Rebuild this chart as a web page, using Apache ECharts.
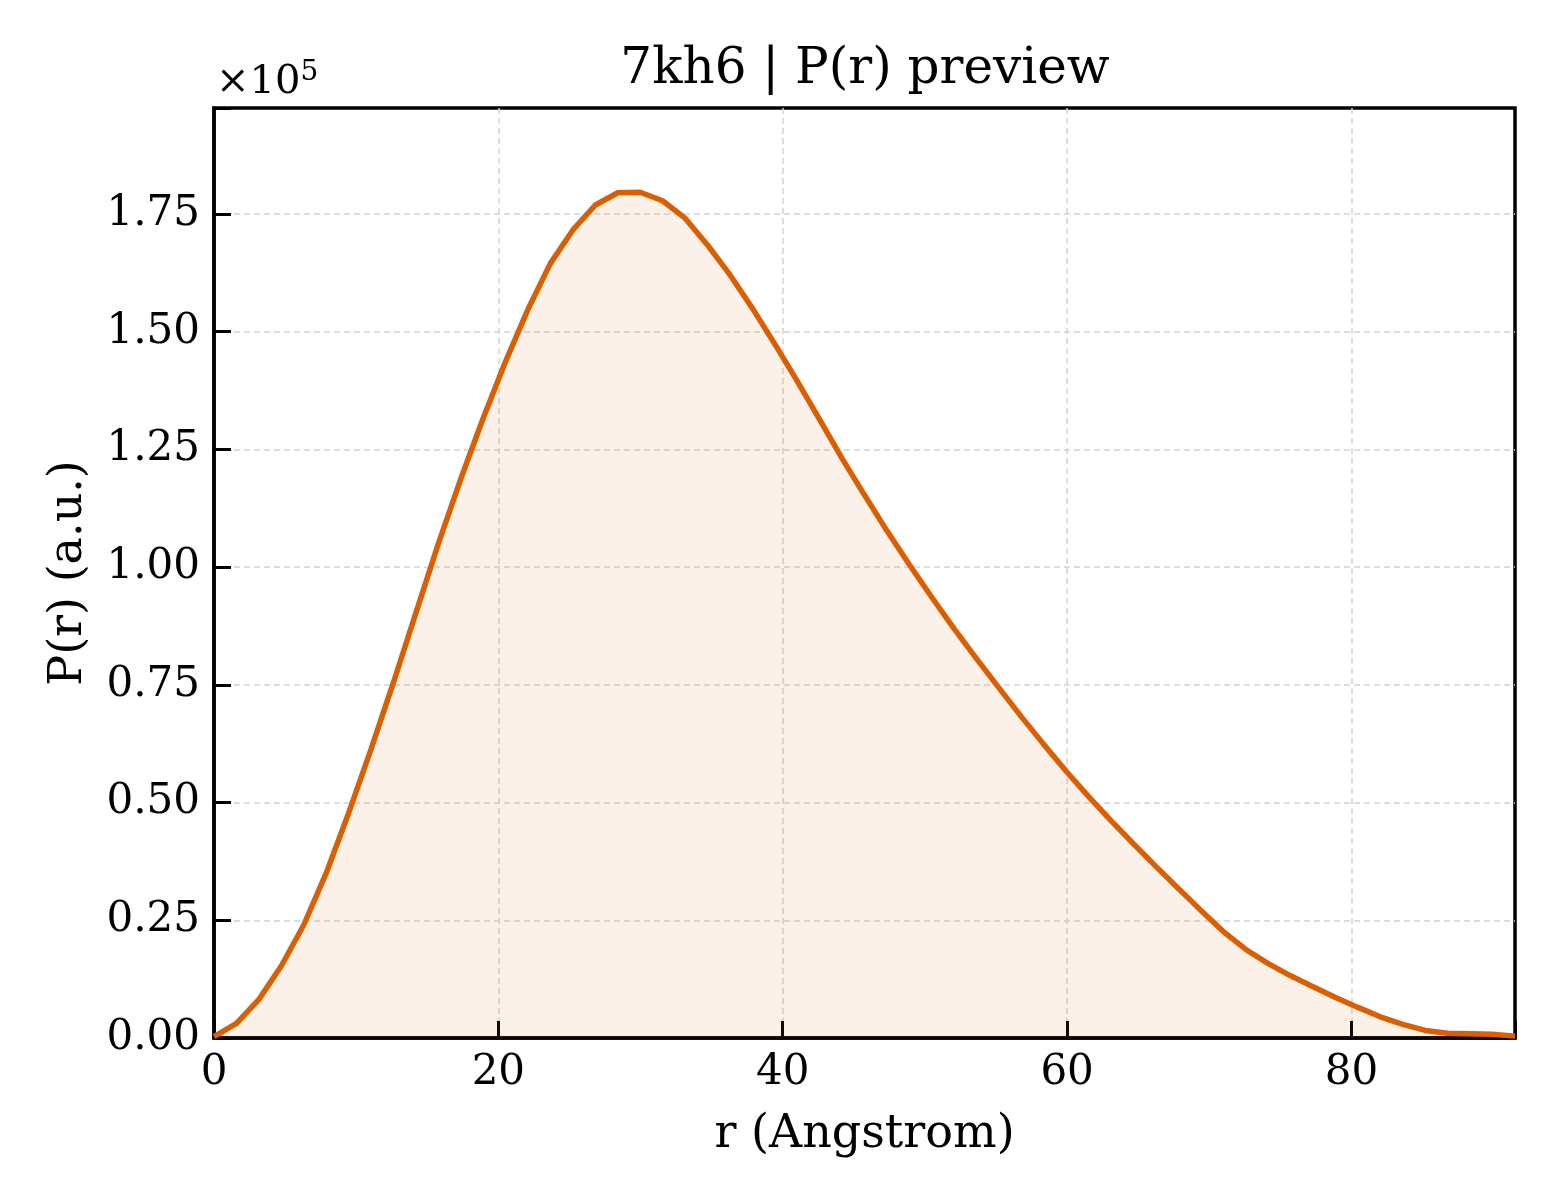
<!DOCTYPE html>
<html>
<head>
<meta charset="utf-8">
<script src="https://cdn.jsdelivr.net/npm/echarts@6/dist/echarts.min.js"></script>
<style>
  html, body { margin: 0; padding: 0; background: #fff; }
  #chart { width: 1560px; height: 1200px; }
</style>
</head>
<body>
<div id="chart"></div>
<script>
// r values (Angstrom)
const rValues = [
  0, 1.58, 3.16, 4.73, 6.31, 7.89, 9.47, 11.04, 12.62, 14.20,
  15.78, 17.35, 18.93, 20.51, 22.09, 23.66, 25.24, 26.82, 28.40, 29.97,
  31.55, 33.13, 34.71, 36.28, 37.86, 39.44, 41.02, 42.60, 44.17, 45.75,
  47.33, 48.91, 50.48, 52.06, 53.64, 55.22, 56.79, 58.37, 59.95, 61.53,
  63.10, 64.68, 66.26, 67.84, 69.41, 70.99, 72.57, 74.15, 75.72, 77.30,
  78.88, 80.46, 82.03, 83.61, 85.19, 86.77, 88.34, 89.92, 91.50
];

// P(r) values (a.u.)
const prValues = [
  300, 3100, 8200, 15300, 24000, 35000, 47800, 61300, 75500, 90300,
  105000, 118700, 131600, 143700, 154800, 164500, 171600, 176900, 179500, 179600,
  177800, 174100, 168400, 162100, 155000, 147400, 139500, 131300, 123100, 115300,
  107700, 100500, 93600, 86900, 80500, 74300, 68200, 62300, 56600, 51200,
  46100, 41200, 36400, 31700, 27100, 22600, 18800, 15800, 13200, 10900,
  8600, 6500, 4500, 2900, 1600, 1000, 900, 800, 400
];

const xTicks = [0, 20, 40, 60, 80];
const yTicks = [0, 25000, 50000, 75000, 100000, 125000, 150000, 175000];

const serif = 'DejaVu Serif';
const gridStyle = { color: '#d4d4d4', width: 1.5, type: [6, 4] };
const chart = echarts.init(document.getElementById('chart'));

chart.setOption({
  backgroundColor: '#fff',
  animation: false,
  grid: {
    left: 214, right: 45, top: 108, bottom: 162,
    show: true, borderColor: '#000', borderWidth: 3.5, backgroundColor: 'transparent'
  },
  graphic: [
    {
      type: 'text', x: 865, y: 45,
      style: {
        text: '7kh6 | P(r) preview', fill: '#000',
        font: '50px "DejaVu Serif"', textAlign: 'center', textVerticalAlign: 'top'
      }
    },
    {
      type: 'text', x: 216, y: 59,
      style: {
        text: '×10{s|5}', fill: '#000',
        font: '40px "DejaVu Serif"',
        rich: { s: { fontSize: 28, fontFamily: serif, verticalAlign: 'top', padding: [0, 0, 20, 0] } }
      }
    }
  ],
  xAxis: {
    type: 'value', min: 0, max: 91.5, interval: 20,
    name: 'r (Angstrom)', nameLocation: 'middle', nameGap: 74,
    nameTextStyle: { fontFamily: serif, fontSize: 46, color: '#000' },
    axisLine: { lineStyle: { color: '#000', width: 3.5 } },
    axisTick: { inside: true, length: 17, lineStyle: { color: '#000', width: 3 } },
    axisLabel: {
      fontFamily: serif, fontSize: 42, color: '#000', margin: 14,
      formatter: v => xTicks.includes(v) ? String(v) : ''
    },
    splitLine: { show: true, showMinLine: false, showMaxLine: false, lineStyle: gridStyle }
  },
  yAxis: {
    type: 'value', min: 0, max: 197500, interval: 25000,
    name: 'P(r) (a.u.)', nameLocation: 'middle', nameGap: 122,
    nameTextStyle: { fontFamily: serif, fontSize: 46, color: '#000' },
    axisLine: { lineStyle: { color: '#000', width: 3.5 } },
    axisTick: { inside: true, length: 17, lineStyle: { color: '#000', width: 3 } },
    axisLabel: {
      fontFamily: serif, fontSize: 42, color: '#000', margin: 14,
      formatter: v => yTicks.includes(v) ? (v / 1e5).toFixed(2) : ''
    },
    splitLine: { show: true, showMinLine: false, showMaxLine: false, lineStyle: gridStyle }
  },
  series: [{
    type: 'line',
    data: rValues.map((r, i) => [r, prValues[i]]),
    showSymbol: false,
    smooth: false,
    lineStyle: { color: '#d95f02', width: 5.5 },
    areaStyle: { color: 'rgba(217,95,2,0.13)', origin: 'start' },
    z: 3
  }]
});
</script>
</body>
</html>
